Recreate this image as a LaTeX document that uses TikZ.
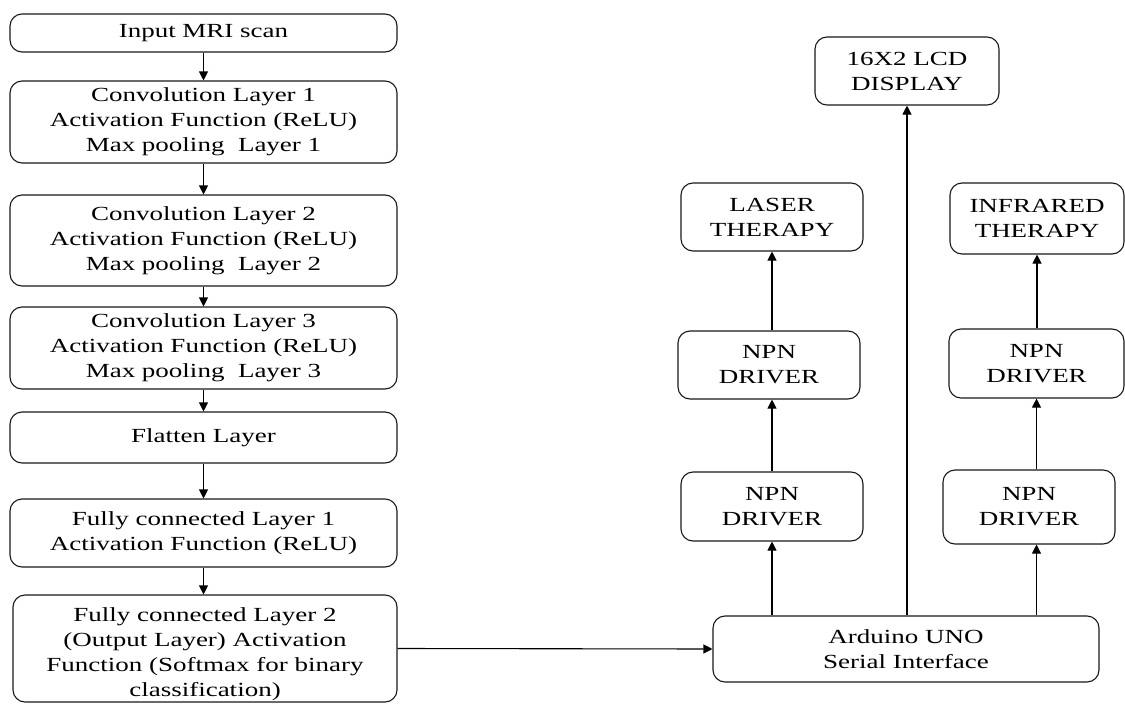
\documentclass[tikz,border=0pt]{standalone}
\usepackage{fontspec}
\setmainfont{Liberation Serif}[FakeStretch=1.35]
\usetikzlibrary{arrows.meta}
\begin{document}
\begin{tikzpicture}[x=1pt,y=-1pt,
  box/.style={draw=black!90, line width=1.1pt, rounded corners=12pt, align=center,
    inner sep=0pt, text=black, font=\fontsize{20}{25}\selectfont},
  arr/.style={draw=black, line width=1.1pt, -{Triangle[length=9pt,width=9pt]}}]
\useasboundingbox (0,0) rectangle (1125,704);
% left column
\node[box, minimum width=387pt, minimum height=38pt] (in) at (203.5,33) {Input MRI scan};
\node[box, minimum width=387pt, minimum height=82pt] (c1) at (203.5,122) {Convolution Layer 1\\Activation Function (ReLU)\\Max pooling~ Layer 1};
\node[box, minimum width=387pt, minimum height=91pt] (c2) at (203.5,240.5) {Convolution Layer 2\\Activation Function (ReLU)\\Max pooling~ Layer 2};
\node[box, minimum width=387pt, minimum height=82pt] (c3) at (203.5,348) {Convolution Layer 3\\Activation Function (ReLU)\\Max pooling~ Layer 3};
\node[box, minimum width=387pt, minimum height=51pt] (fl) at (203.5,437.5) {Flatten Layer};
\node[box, minimum width=387pt, minimum height=68pt] (fc1) at (203.5,533) {Fully connected Layer 1\\Activation Function (ReLU)};
\node[box, minimum width=384pt, minimum height=107pt] (fc2) at (205,648.5) {\rule{0pt}{26pt}Fully connected Layer 2\\(Output Layer) Activation\\Function (Softmax for binary\\classification)};
% right side
\node[box, minimum width=184pt, minimum height=68pt] (lcd) at (907,71) {16X2 LCD\\DISPLAY};
\node[box, minimum width=182pt, minimum height=68pt] (laser) at (772,217) {LASER\\THERAPY};
\node[box, minimum width=174pt, minimum height=71pt] (ir) at (1037,218.5) {INFRARED\\THERAPY};
\node[box, minimum width=182pt, minimum height=68pt] (npnL1) at (769,365) {NPN\\DRIVER};
\node[box, minimum width=175pt, minimum height=69pt] (npnR1) at (1036.5,363.5) {NPN\\DRIVER};
\node[box, minimum width=182pt, minimum height=69pt] (npnL2) at (772,506.5) {NPN\\DRIVER};
\node[box, minimum width=172pt, minimum height=74pt] (npnR2) at (1029,507) {NPN\\DRIVER};
\node[box, minimum width=386pt, minimum height=66pt] (ard) at (906,649) {Arduino UNO\\Serial Interface};
% connectors left
\draw[arr] (in.south) -- (c1.north);
\draw[arr] (c1.south) -- (c2.north);
\draw[arr] (c2.south) -- (c3.north);
\draw[arr] (c3.south) -- (fl.north);
\draw[arr] (fl.south) -- (fc1.north);
\draw[arr] (fc1.south) -- (fc1.south |- fc2.north);
\draw[arr] (fc2.east) -- (ard.west);
% connectors right
\draw[arr] (ard.north -| npnL2.south) -- (npnL2.south);
\draw[arr] (npnL2.north) -- (npnL2.north |- npnL1.south);
\draw[arr] (npnL1.north -| laser.south) -- (laser.south);
\draw[arr] (ard.north -| lcd.south) -- (lcd.south);
\draw[arr] (ard.north -| npnR1.south) -- (npnR2.south -| npnR1.south);
\draw[arr] (npnR2.north -| npnR1.south) -- (npnR1.south);
\draw[arr] (npnR1.north -| ir.south) -- (ir.south);
\end{tikzpicture}
\end{document}
